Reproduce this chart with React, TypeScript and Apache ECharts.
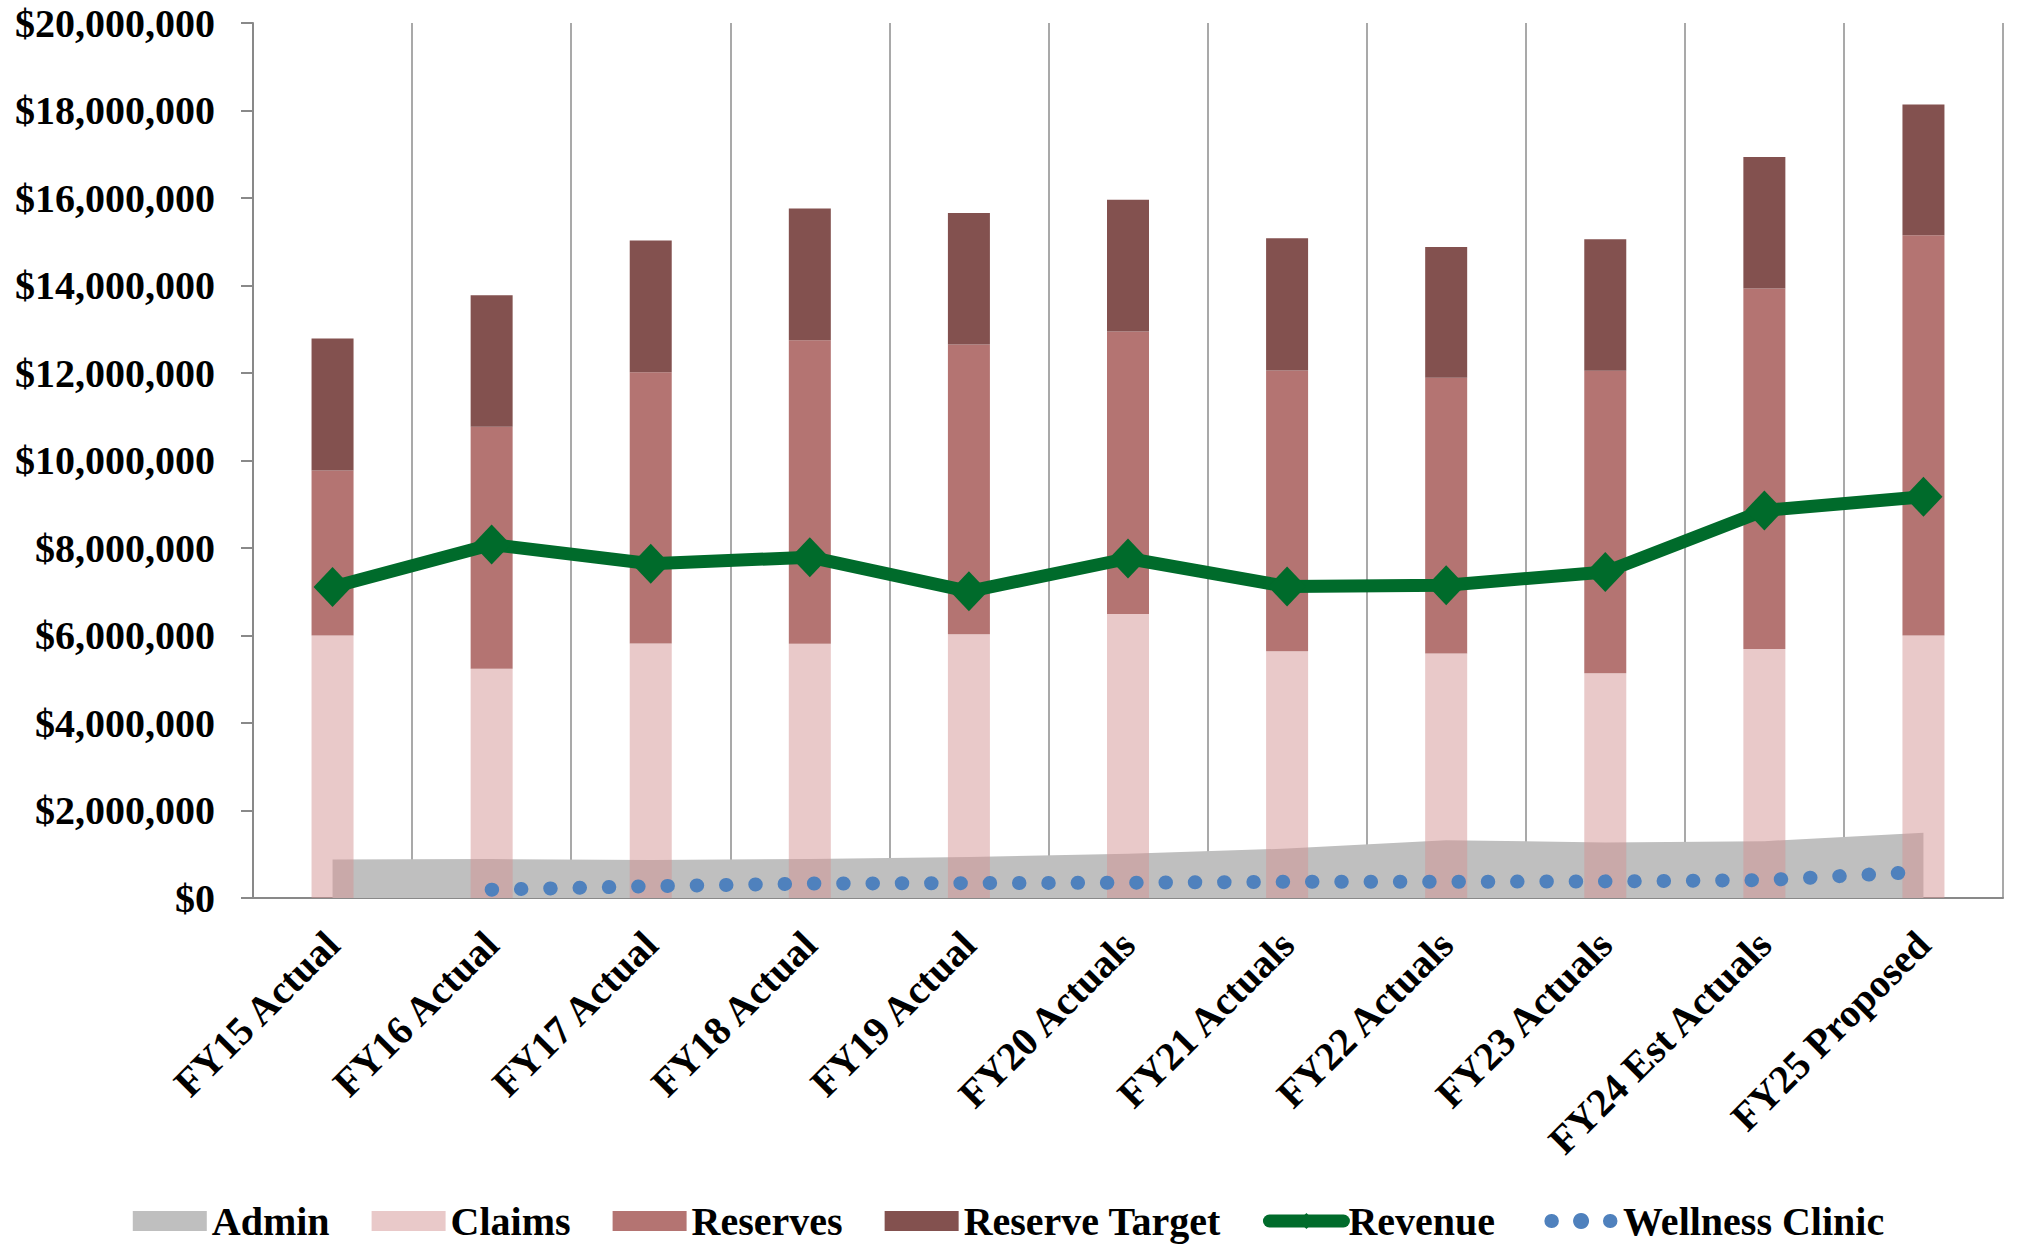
import React, { useEffect, useRef } from "react";
import * as echarts from "echarts";

const categories = [
  "FY15 Actual",
  "FY16 Actual",
  "FY17 Actual",
  "FY18 Actual",
  "FY19 Actual",
  "FY20 Actuals",
  "FY21 Actuals",
  "FY22 Actuals",
  "FY23 Actuals",
  "FY24 Est Actuals",
  "FY25 Proposed",
];

const admin = [880000, 890000, 870000, 890000, 940000, 1010000, 1130000, 1320000, 1270000, 1300000, 1490000];
const claims = [6000000, 5240000, 5820000, 5810000, 6030000, 6490000, 5640000, 5590000, 5140000, 5690000, 6000000];
const reserves = [3770000, 5530000, 6200000, 6940000, 6620000, 6460000, 6420000, 6300000, 6910000, 8240000, 9150000];
const reserveTarget = [3020000, 3010000, 3010000, 3010000, 3010000, 3010000, 3020000, 2990000, 3010000, 3010000, 2990000];
const revenue = [7110000, 8080000, 7640000, 7790000, 7010000, 7760000, 7120000, 7150000, 7450000, 8860000, 9170000];
const wellnessClinic = [null, 190000, 270000, 330000, 340000, 350000, 370000, 370000, 380000, 410000, 600000];

const yTicks = { min: 0, max: 20000000, interval: 2000000 };

const FONT = "'Liberation Serif', 'Times New Roman', serif";
const DOTS = [0.5, 28.8];

export default function App() {
  const ref = useRef<HTMLDivElement>(null);

  useEffect(() => {
    if (!ref.current) return;
    const chart = echarts.init(ref.current, undefined, { renderer: "svg" });
    const option = {
      animation: false,
      backgroundColor: "#ffffff",
      textStyle: { fontFamily: FONT },
      grid: { left: 253, right: 14, top: 23, bottom: 351, containLabel: false },
      legend: {
        top: 1196,
        left: "center",
        itemWidth: 74,
        itemHeight: 20,
        itemGap: 42,
        textStyle: { fontFamily: FONT, fontWeight: "bold", fontSize: 40, color: "#000" },
        data: [
          { name: "Admin", icon: "rect" },
          { name: "Claims", icon: "rect" },
          { name: "Reserves", icon: "rect" },
          { name: "Reserve Target", icon: "rect" },
          {
            name: "Revenue",
            itemStyle: { color: "#006b2b", opacity: 1 },
            lineStyle: { width: 13, color: "#006b2b", cap: "round" },
          },
          {
            name: "Wellness Clinic",
            lineStyle: { width: 14, color: "#4f81bd", type: DOTS, cap: "round", dashOffset: 22 },
          },
        ],
      },
      xAxis: {
        type: "category",
        data: categories,
        boundaryGap: true,
        axisLine: { show: true, lineStyle: { color: "#898989", width: 2 } },
        axisTick: { show: false },
        splitLine: { show: true, lineStyle: { color: "#8c8c8c", width: 1.5 } },
        axisLabel: {
          interval: 0,
          rotate: 45,
          margin: 40,
          fontFamily: FONT,
          fontWeight: "bold",
          fontSize: 40,
          color: "#000",
        },
      },
      yAxis: {
        type: "value",
        min: yTicks.min,
        max: yTicks.max,
        interval: yTicks.interval,
        axisLine: { show: true, lineStyle: { color: "#898989", width: 2 } },
        axisTick: { show: true, length: 12, lineStyle: { color: "#898989", width: 2 } },
        splitLine: { show: false },
        axisLabel: {
          margin: 38,
          fontFamily: FONT,
          fontWeight: "bold",
          fontSize: 40,
          color: "#000",
          formatter: (v: number) => "$" + v.toLocaleString("en-US"),
        },
      },
      series: [
        {
          name: "Admin",
          type: "line",
          data: admin,
          symbol: "none",
          lineStyle: { width: 0, color: "#bfbfbf" },
          itemStyle: { color: "#bfbfbf" },
          areaStyle: { color: "#bfbfbf", opacity: 1 },
          z: 1,
        },
        {
          name: "Claims",
          type: "bar",
          stack: "total",
          barWidth: 42,
          data: claims,
          itemStyle: { color: "rgba(211,147,147,0.5)" },
          z: 2,
        },
        {
          name: "Reserves",
          type: "bar",
          stack: "total",
          barWidth: 42,
          data: reserves,
          itemStyle: { color: "#b47472" },
          z: 2,
        },
        {
          name: "Reserve Target",
          type: "bar",
          stack: "total",
          barWidth: 42,
          data: reserveTarget,
          itemStyle: { color: "#83514f" },
          z: 2,
        },
        {
          name: "Revenue",
          type: "line",
          data: revenue,
          symbol: "diamond",
          symbolSize: [38, 40],
          lineStyle: { width: 13, color: "#006b2b" },
          itemStyle: { color: "#006b2b" },
          z: 4,
        },
        {
          name: "Wellness Clinic",
          type: "line",
          data: wellnessClinic,
          symbol: "none",
          connectNulls: false,
          lineStyle: { width: 14, color: "#4f81bd", type: DOTS, cap: "round" },
          itemStyle: { color: "#4f81bd" },
          z: 5,
        },
      ],
    };
    chart.setOption(option as any);
    return () => {
      chart.dispose();
    };
  }, []);

  return (
    <div
      ref={ref}
      style={{ position: "fixed", left: 0, top: 0, width: 2017, height: 1249, background: "#fff" }}
    />
  );
}
